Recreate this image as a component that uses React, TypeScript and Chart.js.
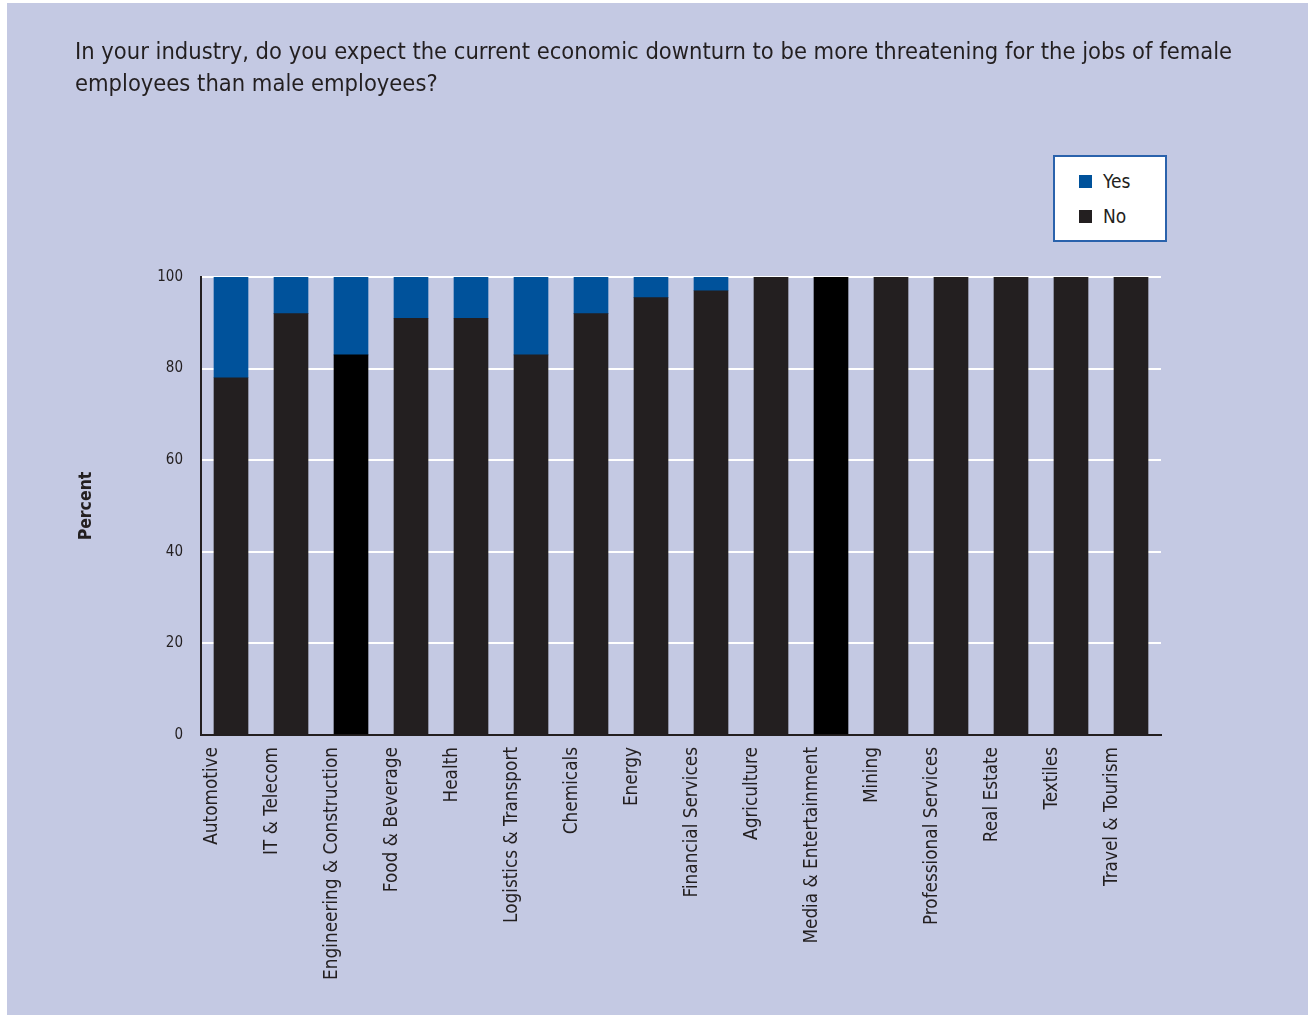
import React, { useEffect, useRef } from "react";
import { Chart, registerables } from "chart.js";

Chart.register(...registerables);

const titleLines = [
  "In your industry, do you expect the current economic downturn to be more threatening for the jobs of female",
  "employees than male employees?",
];

const categories = [
  "Automotive",
  "IT & Telecom",
  "Engineering & Construction",
  "Food & Beverage",
  "Health",
  "Logistics & Transport",
  "Chemicals",
  "Energy",
  "Financial Services",
  "Agriculture",
  "Media & Entertainment",
  "Mining",
  "Professional Services",
  "Real Estate",
  "Textiles",
  "Travel & Tourism",
];

const noValues = [78, 92, 83, 91, 91, 83, 92, 95.5, 97, 100, 100, 100, 100, 100, 100, 100];
const yesValues = [22, 8, 17, 9, 9, 17, 8, 4.5, 3, 0, 0, 0, 0, 0, 0, 0];
const noColors = [
  "#231F20", "#231F20", "#000000", "#231F20", "#231F20", "#231F20", "#231F20", "#231F20",
  "#231F20", "#231F20", "#000000", "#231F20", "#231F20", "#231F20", "#231F20", "#231F20",
];

const yTicks = [0, 20, 40, 60, 80, 100];
const legendItems = [
  { label: "Yes", color: "#00529B" },
  { label: "No", color: "#231F20" },
];

const FONT = "'Liberation Sans Narrow', 'DejaVu Sans Condensed', sans-serif";
const BG = "#C4C9E3";
const INK = "#231F20";

export default function App() {
  const ref = useRef<HTMLCanvasElement | null>(null);

  useEffect(() => {
    if (!ref.current) return;
    const chart = new Chart(ref.current, {
      type: "bar",
      data: {
        labels: categories,
        datasets: [
          {
            label: "No",
            data: noValues,
            backgroundColor: noColors,
            stack: "s",
            barThickness: 34,
          },
          {
            label: "Yes",
            data: yesValues,
            backgroundColor: "#00529B",
            stack: "s",
            barThickness: 34,
          },
        ],
      },
      options: {
        responsive: false,
        animation: false,
        devicePixelRatio: 1,
        layout: { padding: { left: 69, right: 147, top: 274, bottom: 5 } },
        plugins: {
          legend: { display: false },
          title: { display: false },
          tooltip: { enabled: false },
        },
        scales: {
          x: {
            stacked: true,
            afterFit: (s: any) => {
              s.height = 275;
            },
            grid: { display: false, drawTicks: false },
            border: { display: true, color: INK, width: 2 },
            ticks: {
              autoSkip: false,
              minRotation: 90,
              maxRotation: 90,
              padding: 12,
              labelOffset: -19,
              color: INK,
              font: { family: FONT, size: 18.8 },
            },
          },
          y: {
            stacked: true,
            min: 0,
            max: 100,
            afterFit: (s: any) => {
              s.width = 125;
            },
            afterBuildTicks: (s: any) => {
              s.ticks = yTicks.map((v) => ({ value: v }));
            },
            grid: {
              drawTicks: false,
              lineWidth: 2,
              color: (ctx: any) => (ctx.tick && ctx.tick.value === 0 ? "rgba(0,0,0,0)" : "#FFFFFF"),
            },
            border: { display: true, color: INK, width: 2 },
            ticks: {
              padding: 18,
              color: INK,
              font: { family: FONT, size: 15 },
            },
            title: {
              display: true,
              text: "Percent",
              color: INK,
              padding: 0,
              font: { family: FONT, size: 17.5, weight: "bold" },
            },
          },
        },
      },
    });
    return () => chart.destroy();
  }, []);

  return (
    <div
      style={{
        position: "absolute",
        left: 7,
        top: 3,
        width: 1301,
        height: 1012,
        background: BG,
        fontFamily: FONT,
        color: INK,
      }}
    >
      <canvas ref={ref} width={1301} height={1012} style={{ position: "absolute", left: 0, top: 0 }} />
      <div
        style={{
          position: "absolute",
          left: 68,
          top: 32,
          fontSize: 23.5,
          lineHeight: "32px",
          whiteSpace: "nowrap",
        }}
      >
        {titleLines.map((t, i) => (
          <div key={i}>{t}</div>
        ))}
      </div>
      <div
        style={{
          position: "absolute",
          left: 1046,
          top: 152,
          width: 114,
          height: 87,
          background: "#FFFFFF",
          border: "2px solid #2A62AC",
          boxSizing: "border-box",
        }}
      >
        {legendItems.map((it, i) => (
          <div
            key={it.label}
            style={{
              position: "absolute",
              left: 24,
              top: 13 + i * 35,
              display: "flex",
              alignItems: "center",
              fontSize: 19,
              lineHeight: "22px",
            }}
          >
            <span style={{ display: "inline-block", width: 13, height: 13, background: it.color, marginRight: 11 }} />
            <span>{it.label}</span>
          </div>
        ))}
      </div>
    </div>
  );
}
